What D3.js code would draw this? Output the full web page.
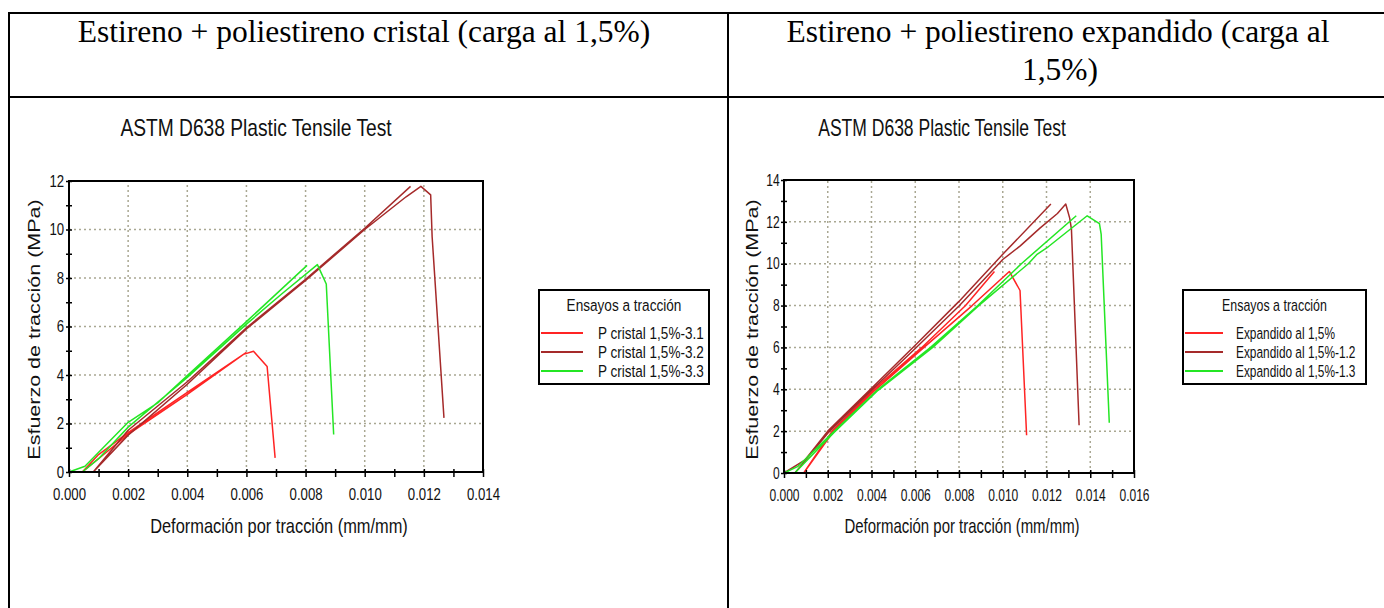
<!DOCTYPE html>
<html>
<head>
<meta charset="utf-8">
<script src="https://cdn.jsdelivr.net/npm/d3@7"></script>
<style>
  html, body { margin: 0; padding: 0; background: #fff; }
  svg { display: block; }
</style>
</head>
<body>
<svg id="page" width="1384" height="608"></svg>
<script>
// ---- texts
const headerLeft = ['Estireno + poliestireno cristal (carga al 1,5%)'];
const headerRight = ['Estireno + poliestireno expandido (carga al', '1,5%)'];
const chartTitle = 'ASTM D638 Plastic Tensile Test';
const xTitle = 'Deformación por tracción (mm/mm)';
const yTitle = 'Esfuerzo de tracción (MPa)';
const legendTitle = 'Ensayos a tracción';

// ---- left chart: poliestireno cristal
const cristalXTicks = [0, 0.002, 0.004, 0.006, 0.008, 0.010, 0.012, 0.014];
const cristalYTicks = [0, 2, 4, 6, 8, 10, 12];
const cristalNames = ['P cristal 1,5%-3.1', 'P cristal 1,5%-3.2', 'P cristal 1,5%-3.3'];
const cristal31Strain = [0.0060, 0.0040, 0.0020, 0.0010, 0.00045, 0.0020, 0.0040, 0.0059, 0.00624, 0.0067, 0.00697];
const cristal31Stress = [4.93, 3.28, 1.62, 0.72, 0, 1.55, 3.2, 4.85, 4.98, 4.35, 0.58];
const cristal32Strain = [0.01155, 0.0100, 0.0080, 0.0060, 0.0040, 0.0020, 0.00082, 0.0020, 0.0040, 0.0060, 0.0080, 0.0100, 0.0114, 0.0119, 0.01223, 0.01228, 0.01268];
const cristal32Stress = [11.78, 10.05, 7.95, 5.95, 3.72, 1.72, 0, 1.52, 3.62, 5.9, 7.9, 10.0, 11.35, 11.78, 11.43, 9.7, 2.23];
const cristal33Strain = [0.00805, 0.0060, 0.0040, 0.0030, 0.0020, 0.00054, 0, 0.00045, 0.0010, 0.0020, 0.0040, 0.0060, 0.0072, 0.0084, 0.0087, 0.00895];
const cristal33Stress = [8.52, 6.2, 3.98, 2.85, 2.05, 0.24, 0, 0, 0.55, 1.85, 3.9, 6.1, 7.35, 8.55, 7.75, 1.55];

// ---- right chart: poliestireno expandido
const expXTicks = [0, 0.002, 0.004, 0.006, 0.008, 0.010, 0.012, 0.014, 0.016];
const expYTicks = [0, 2, 4, 6, 8, 10, 12, 14];
const expNames = ['Expandido al 1,5%', 'Expandido al 1,5%-1.2', 'Expandido al 1,5%-1.3'];
const exp1Strain = [0.00962, 0.0083, 0.0063, 0.0041, 0.0022, 0.0009, 0.0022, 0.0041, 0.0064, 0.0086, 0.0103, 0.01079, 0.01109];
const exp1Stress = [9.63, 8.0, 6.0, 4.0, 2.0, 0, 1.9, 3.9, 6.0, 8.0, 9.63, 8.72, 1.8];
const exp2Strain = [0.0122, 0.0100, 0.0080, 0.0060, 0.0040, 0.0020, 0.00095, 0, 0.0005, 0.0020, 0.0040, 0.0060, 0.0080, 0.0100, 0.0108, 0.0117, 0.0125, 0.01288, 0.01306, 0.01314, 0.01349];
const exp2Stress = [12.85, 10.45, 8.2, 6.1, 4.05, 2.0, 0.61, 0, 0, 1.9, 3.95, 5.95, 7.98, 10.2, 10.85, 11.7, 12.4, 12.85, 12.18, 11.65, 2.28];
const exp3Strain = [0.01336, 0.01085, 0.00886, 0.0067, 0.0043, 0.0023, 0.00064, 0, 0.00049, 0.0023, 0.0043, 0.0068, 0.0089, 0.01117, 0.01155, 0.01208, 0.01386, 0.01442, 0.0145, 0.01487];
const exp3Stress = [12.29, 10.0, 8.0, 6.0, 4.0, 2.0, 0.32, 0, 0, 1.95, 3.95, 6.0, 8.0, 10.0, 10.43, 10.81, 12.29, 11.92, 11.4, 2.4];

const seriesColors = ['#ff2424', '#a52a2a', '#24e624'];
const sans = '"Liberation Sans", Arial, sans-serif';
const serif = '"Liberation Serif", "Times New Roman", serif';

const svg = d3.select('#page');

// the chart fonts are horizontally narrow in the picture: squeeze with a transform
function label(parent, x, y, k, txt) {
  return parent.append('text')
    .attr('transform', `translate(${x},${y}) scale(${k},1)`)
    .attr('font-family', sans).attr('fill', '#111')
    .text(txt);
}

// ---- table rules
function rule(x1, y1, x2, y2) {
  svg.append('line')
    .attr('x1', x1).attr('y1', y1).attr('x2', x2).attr('y2', y2)
    .attr('stroke', '#000').attr('stroke-width', 2);
}
rule(8, 13, 1384, 13);
rule(8, 97, 1384, 97);
rule(9, 12, 9, 608);
rule(728, 12, 728, 608);

svg.append('text')
  .attr('x', 364).attr('y', 42)
  .attr('text-anchor', 'middle')
  .attr('font-family', serif).attr('font-size', 31.5)
  .text(headerLeft[0]);
svg.selectAll('.hr').data(headerRight).join('text')
  .attr('x', (d, i) => i === 0 ? 1058 : 1060)
  .attr('y', (d, i) => 42 + i * 38)
  .attr('text-anchor', 'middle')
  .attr('font-family', serif).attr('font-size', 31.5)
  .text(d => d);

function drawChart(cfg) {
  const g = svg.append('g');
  const x = d3.scaleLinear().domain([0, cfg.xMax]).range([cfg.left, cfg.left + cfg.width]);
  const y = d3.scaleLinear().domain([0, cfg.yMax]).range([cfg.top + cfg.height, cfg.top]);
  const k = cfg.squeeze;

  // title
  label(g, cfg.titleX, 136, k, chartTitle)
    .attr('text-anchor', 'middle').attr('font-size', 24);

  // dotted grid
  g.append('g').selectAll('line').data(cfg.xTicks.slice(1, -1)).join('line')
    .attr('x1', d => x(d)).attr('x2', d => x(d))
    .attr('y1', y(0)).attr('y2', y(cfg.yMax))
    .attr('stroke', '#a9a792').attr('stroke-width', 1.5).attr('stroke-dasharray', '2,3');
  g.append('g').selectAll('line').data(cfg.yTicks.slice(1, -1)).join('line')
    .attr('y1', d => y(d)).attr('y2', d => y(d))
    .attr('x1', x(0)).attr('x2', x(cfg.xMax))
    .attr('stroke', '#a9a792').attr('stroke-width', 1.5).attr('stroke-dasharray', '2,3');

  // curves
  const line = d3.line().x(d => x(d[0])).y(d => y(d[1]));
  cfg.series.forEach((s, i) => {
    g.append('path')
      .datum(d3.zip(s.strain, s.stress))
      .attr('fill', 'none')
      .attr('stroke', seriesColors[i])
      .attr('stroke-width', 1.5)
      .attr('stroke-linejoin', 'round')
      .attr('d', line);
  });

  // frame
  g.append('rect')
    .attr('x', x(0)).attr('y', y(cfg.yMax))
    .attr('width', cfg.width).attr('height', cfg.height)
    .attr('fill', 'none').attr('stroke', '#000').attr('stroke-width', 2);

  // x axis ticks (major + minor), crossing the axis
  const minorX = d3.pairs(cfg.xTicks).map(([a, b]) => (a + b) / 2);
  g.append('g')
    .attr('transform', `translate(0,${y(0)})`)
    .call(d3.axisBottom(x).tickValues(cfg.xTicks.concat(minorX)).tickSize(5).tickFormat(''))
    .call(a => a.select('.domain').remove())
    .call(a => a.selectAll('.tick line').attr('y1', -3).attr('stroke', '#000').attr('stroke-width', 1.5));
  g.append('g')
    .attr('transform', `translate(0,${y(0)})`)
    .call(d3.axisBottom(x).tickValues(cfg.xTicks).tickSize(0).tickPadding(16).tickFormat(d3.format('.3f')))
    .call(a => a.select('.domain').remove())
    .call(a => a.selectAll('text')
      .attr('font-family', sans).attr('font-size', 16.5).attr('fill', '#111')
      .attr('transform', `scale(${k},1)`));

  // y axis ticks
  const minorY = d3.pairs(cfg.yTicks).map(([a, b]) => (a + b) / 2);
  g.append('g')
    .attr('transform', `translate(${x(0)},0)`)
    .call(d3.axisLeft(y).tickValues(cfg.yTicks.concat(minorY)).tickSize(3).tickFormat(''))
    .call(a => a.select('.domain').remove())
    .call(a => a.selectAll('.tick line').attr('x1', 3).attr('stroke', '#000').attr('stroke-width', 1.5));
  g.append('g')
    .attr('transform', `translate(${x(0)},0)`)
    .call(d3.axisLeft(y).tickValues(cfg.yTicks).tickSize(0).tickPadding(6).tickFormat(d3.format('d')))
    .call(a => a.select('.domain').remove())
    .call(a => a.selectAll('text')
      .attr('font-family', sans).attr('font-size', 16.5).attr('fill', '#111')
      .attr('transform', `scale(${k},1)`));

  // axis titles
  label(g, cfg.left + cfg.width / 2 + 3, 533, k, xTitle)
    .attr('text-anchor', 'middle').attr('font-size', 20.5);
  g.append('text')
    .attr('transform', `translate(${cfg.yTitleX},${cfg.top + cfg.height / 2 + 3}) rotate(-90) scale(1,${k})`)
    .attr('text-anchor', 'middle')
    .attr('font-family', sans).attr('font-size', 21.5).attr('fill', '#111')
    .text(yTitle);

  // legend
  const L = cfg.legend;
  const lg = g.append('g');
  lg.append('rect')
    .attr('x', L.x).attr('y', L.y).attr('width', L.w).attr('height', L.h)
    .attr('fill', '#fff').attr('stroke', '#000').attr('stroke-width', 2);
  label(lg, L.x + L.w / 2, L.y + 21, k, legendTitle)
    .attr('text-anchor', 'middle').attr('font-size', 17);
  cfg.series.forEach((s, i) => {
    const base = L.y + 49 + i * 19;
    lg.append('line')
      .attr('x1', L.x + 2).attr('x2', L.x + 2 + L.lineW)
      .attr('y1', base - 6).attr('y2', base - 6)
      .attr('stroke', seriesColors[i]).attr('stroke-width', 2);
    label(lg, L.textX, base, L.squeeze, s.name)
      .attr('font-size', 16.5);
  });
}

drawChart({
  left: 69, top: 181, width: 414, height: 291, xMax: 0.014, yMax: 12,
  xTicks: cristalXTicks, yTicks: cristalYTicks, squeeze: 0.8,
  titleX: 256, yTitleX: 40,
  legend: { x: 539, y: 290, w: 170, h: 94, lineW: 42, textX: 598, squeeze: 0.82 },
  series: [
    { name: cristalNames[0], strain: cristal31Strain, stress: cristal31Stress },
    { name: cristalNames[1], strain: cristal32Strain, stress: cristal32Stress },
    { name: cristalNames[2], strain: cristal33Strain, stress: cristal33Stress }
  ]
});

drawChart({
  left: 784, top: 180, width: 350, height: 293, xMax: 0.016, yMax: 14,
  xTicks: expXTicks, yTicks: expYTicks, squeeze: 0.73,
  titleX: 942, yTitleX: 758,
  legend: { x: 1183, y: 290, w: 183, h: 94, lineW: 38, textX: 1236, squeeze: 0.72 },
  series: [
    { name: expNames[0], strain: exp1Strain, stress: exp1Stress },
    { name: expNames[1], strain: exp2Strain, stress: exp2Stress },
    { name: expNames[2], strain: exp3Strain, stress: exp3Stress }
  ]
});
</script>
</body>
</html>
